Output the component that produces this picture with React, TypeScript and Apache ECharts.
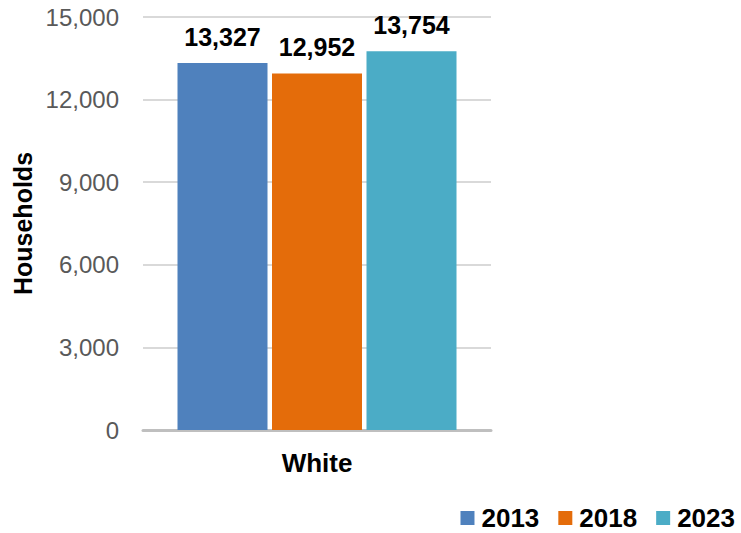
import React, { useEffect, useRef } from "react";
import * as echarts from "echarts";

const categories = ["White"];
const years = ["2013", "2018", "2023"];
const values2013 = [13327];
const values2018 = [12952];
const values2023 = [13754];
const colors = ["#4f81bd", "#e46c0a", "#4bacc6"];
const yTicks = { min: 0, max: 15000, interval: 3000 };

export default function App() {
  const ref = useRef<HTMLDivElement>(null);
  useEffect(() => {
    if (!ref.current) return;
    const chart = echarts.init(ref.current, null, { renderer: "svg" });
    const seriesData = [values2013, values2018, values2023];
    const font = "Liberation Sans, Arial, sans-serif";
    chart.setOption({
      animation: false,
      grid: { left: 143, right: 250, top: 17, bottom: 103, containLabel: false },
      legend: {
        right: 1,
        top: 500,
        itemWidth: 14,
        itemHeight: 14,
        itemGap: 19,
        icon: "rect",
        textStyle: { fontFamily: font, fontSize: 26, fontWeight: "bold", color: "#000", padding: [0, 0, 0, 2] },
        data: years,
      },
      xAxis: {
        type: "category",
        data: categories,
        axisLine: { lineStyle: { color: "#bfbfbf", width: 3 } },
        axisTick: { show: false },
        axisLabel: { fontFamily: font, fontSize: 26, fontWeight: "bold", color: "#000", margin: 20 },
      },
      yAxis: {
        type: "value",
        min: yTicks.min,
        max: yTicks.max,
        interval: yTicks.interval,
        name: "Households",
        nameLocation: "middle",
        nameGap: 108,
        nameTextStyle: { fontFamily: font, fontSize: 25, fontWeight: "bold", color: "#000" },
        axisLine: { show: false },
        axisTick: { show: false },
        splitLine: { lineStyle: { color: "#d9d9d9", width: 2 } },
        axisLabel: {
          fontFamily: font,
          fontSize: 24,
          color: "#595959",
          margin: 24,
          formatter: (v: number) => v.toLocaleString("en-US"),
        },
      },
      series: years.map((y, i) => ({
        name: y,
        type: "bar",
        data: seriesData[i],
        barWidth: 90,
        barGap: "5%",
        itemStyle: { color: colors[i] },
        label: {
          show: true,
          position: "top",
          distance: 14,
          fontFamily: font,
          fontSize: 25,
          fontWeight: "bold",
          color: "#000",
          formatter: (p: any) => Number(p.value).toLocaleString("en-US"),
        },
      })),
    });
    return () => chart.dispose();
  }, []);
  return <div ref={ref} style={{ width: 741, height: 533, position: "absolute", left: 0, top: 0 }} />;
}
